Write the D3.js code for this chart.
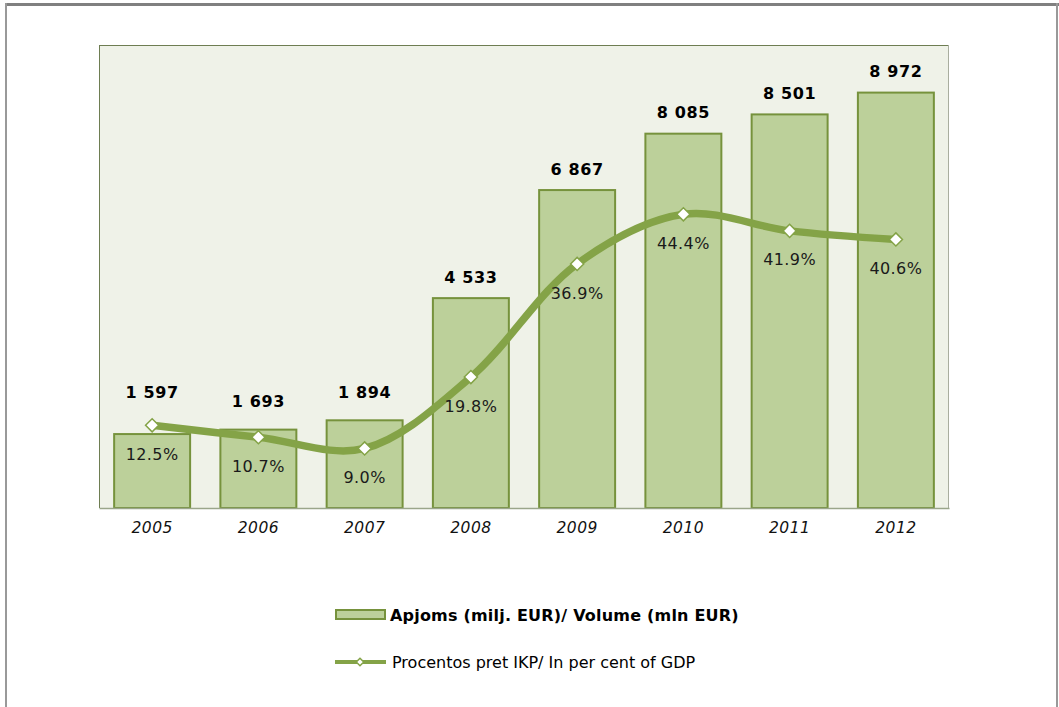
<!DOCTYPE html>
<html>
<head>
<meta charset="utf-8">
<script src="https://cdn.jsdelivr.net/npm/d3@7"></script>
<style>
  body { margin: 0; background: #fff; }
  svg { display: block; font-family: "DejaVu Sans", Verdana, sans-serif; }
</style>
</head>
<body>
<div id="chart"></div>
<script>
// dati
const years = ["2005", "2006", "2007", "2008", "2009", "2010", "2011", "2012"];
const volume = [1597, 1693, 1894, 4533, 6867, 8085, 8501, 8972];
const gdpShare = [12.5, 10.7, 9.0, 19.8, 36.9, 44.4, 41.9, 40.6];
const labelLift = [42, 28, 28, 21, 21, 21, 21, 21]; // labels moved up by hand in the original

const width = 1059, height = 707;
const plot = { left: 99, top: 45, right: 949, bottom: 508 };

const svg = d3.select("#chart")
    .append("svg")
    .attr("width", width)
    .attr("height", height);

// page frame
svg.append("line").attr("x1", 6).attr("x2", width).attr("y1", 4.5).attr("y2", 4.5)
    .attr("stroke", "#808080").attr("stroke-width", 3);
svg.append("line").attr("x1", 6).attr("x2", 6).attr("y1", 3).attr("y2", height)
    .attr("stroke", "#999").attr("stroke-width", 2);
svg.append("line").attr("x1", 1057).attr("x2", 1057).attr("y1", 3).attr("y2", height)
    .attr("stroke", "#999").attr("stroke-width", 2);

const x = d3.scaleBand()
    .domain(years)
    .range([plot.left, plot.right])
    .paddingInner(0.285)
    .paddingOuter(0.1425);

const y = d3.scaleLinear().domain([0, 10000]).range([plot.bottom, plot.top]);
const y2 = d3.scaleLinear().domain([0, 70]).range([plot.bottom, plot.top]);

// plot area
svg.append("rect")
    .attr("x", plot.left).attr("y", plot.top)
    .attr("width", plot.right - plot.left).attr("height", plot.bottom - plot.top)
    .attr("fill", "#eff2e8");
svg.append("line").attr("x1", plot.left).attr("x2", plot.right).attr("y1", plot.top + 0.5).attr("y2", plot.top + 0.5)
    .attr("stroke", "#6e7d52");
svg.append("line").attr("x1", plot.left + 0.5).attr("x2", plot.left + 0.5).attr("y1", plot.top).attr("y2", plot.bottom)
    .attr("stroke", "#6e7d52");
svg.append("line").attr("x1", plot.right - 0.5).attr("x2", plot.right - 0.5).attr("y1", plot.top).attr("y2", plot.bottom)
    .attr("stroke", "#a9ae9f");

// bars
svg.selectAll(".bar")
    .data(volume)
    .enter().append("rect")
    .attr("class", "bar")
    .attr("x", (d, i) => x(years[i]))
    .attr("y", d => y(d))
    .attr("width", x.bandwidth())
    .attr("height", d => y(0) - y(d))
    .attr("fill", "#bcd09a")
    .attr("stroke", "#76923c")
    .attr("stroke-width", 2);

// x axis
const xAxis = svg.append("g")
    .attr("transform", `translate(0,${plot.bottom})`)
    .call(d3.axisBottom(x).tickSize(0).tickPadding(14));
xAxis.select(".domain").attr("stroke", "#9aa68a").attr("stroke-width", 1.5);
xAxis.selectAll("text")
    .attr("font-size", 15.5)
    .attr("font-style", "italic")
    .attr("fill", "#111")
    .attr("letter-spacing", 0.4)
    .attr("font-family", "DejaVu Sans, Verdana, sans-serif");

// value labels
svg.selectAll(".vlabel")
    .data(volume)
    .enter().append("text")
    .attr("class", "vlabel")
    .attr("x", (d, i) => x(years[i]) + x.bandwidth() / 2)
    .attr("y", (d, i) => y(d) - labelLift[i])
    .attr("dy", "0.35em")
    .attr("text-anchor", "middle")
    .attr("font-size", 16)
    .attr("letter-spacing", 0.6)
    .attr("font-weight", "bold")
    .attr("fill", "#000")
    .text(d => d3.format(",")(d).replace(/,/g, " "));

// percent line
const pts = gdpShare.map((d, i) => [x(years[i]) + x.bandwidth() / 2, y2(d)]);
svg.append("path")
    .datum(pts)
    .attr("d", d3.line().curve(d3.curveCatmullRom.alpha(0.5)))
    .attr("fill", "none")
    .attr("stroke", "#84a347")
    .attr("stroke-width", 7.5)
    .attr("stroke-linecap", "round");

const diamond = d3.symbol().type(d3.symbolDiamond2).size(110);
svg.selectAll(".marker")
    .data(pts)
    .enter().append("path")
    .attr("class", "marker")
    .attr("transform", d => `translate(${d[0]},${d[1]})`)
    .attr("d", diamond)
    .attr("fill", "#fff")
    .attr("stroke", "#84a347")
    .attr("stroke-width", 1.5);

svg.selectAll(".plabel")
    .data(gdpShare)
    .enter().append("text")
    .attr("class", "plabel")
    .attr("x", (d, i) => pts[i][0])
    .attr("y", (d, i) => pts[i][1] + 29)
    .attr("dy", "0.35em")
    .attr("text-anchor", "middle")
    .attr("font-size", 16)
    .attr("letter-spacing", 0.4)
    .attr("fill", "#1a1a1a")
    .text(d => d.toFixed(1) + "%");

// legend
const lg = svg.append("g");
lg.append("rect")
    .attr("x", 336).attr("y", 610).attr("width", 49).attr("height", 9)
    .attr("fill", "#bcd09a").attr("stroke", "#76923c").attr("stroke-width", 2);
lg.append("text")
    .attr("x", 390).attr("y", 615).attr("dy", "0.35em")
    .attr("font-size", 16).attr("font-weight", "bold")
    .attr("letter-spacing", 0.2)
    .text("Apjoms (milj. EUR)/ Volume (mln EUR)");
lg.append("line")
    .attr("x1", 335).attr("x2", 386).attr("y1", 662).attr("y2", 662)
    .attr("stroke", "#84a347").attr("stroke-width", 4);
lg.append("path")
    .attr("transform", "translate(360,662)")
    .attr("d", d3.symbol().type(d3.symbolDiamond2).size(36))
    .attr("fill", "#fff").attr("stroke", "#84a347").attr("stroke-width", 1.5);
lg.append("text")
    .attr("x", 392).attr("y", 662).attr("dy", "0.35em")
    .attr("font-size", 16)
    .text("Procentos pret IKP/ In per cent of GDP");
</script>
</body>
</html>
